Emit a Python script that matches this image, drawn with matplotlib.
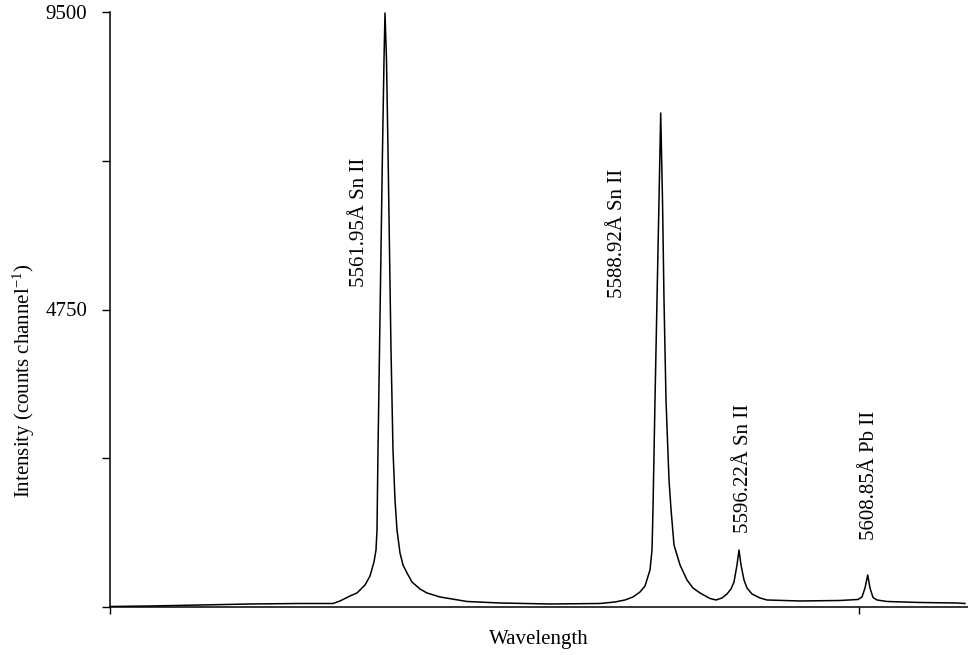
import matplotlib
matplotlib.use('Agg')
import matplotlib.pyplot as plt

plt.rcParams['font.family'] = ['Liberation Serif', 'DejaVu Serif']
plt.rcParams['mathtext.fontset'] = 'custom'
plt.rcParams['mathtext.rm'] = 'Liberation Serif'
plt.rcParams['mathtext.it'] = 'Liberation Serif:italic'

# spectrum (x = detector channel, y = counts per channel)
channel = [0, 40, 90, 140, 190, 223, 230, 240, 247, 255, 260, 264, 266, 267, 268,
           269.5, 271, 272.5, 274, 275, 276.5, 278, 279.5, 281, 283, 285, 287, 290,
           293, 297, 302, 310, 317, 330, 357, 390, 440, 490, 505, 515, 523, 530, 535,
           540, 542, 543, 545, 547, 549, 550.7, 552.5, 554, 556, 559, 561, 564, 570,
           577, 583, 590, 600, 606, 612, 617, 621, 624, 627, 629, 631, 634, 637, 642,
           650, 657, 690, 730, 748, 752, 755, 757.7, 760, 763, 767, 777, 810, 847, 855]
counts = [8, 16, 32, 48, 56, 56, 96, 176, 224, 351, 495, 719, 910, 1229, 2507,
          4103, 5700, 7296, 8733, 9484, 8733, 7296, 5700, 4103, 2507, 1708, 1229, 862,
          671, 543, 399, 287, 224, 160, 88, 64, 48, 56, 80, 112, 160, 240, 335,
          591, 910, 1565, 3305, 4902, 6498, 7887, 6498, 4902, 3305, 2028, 1565, 990, 671,
          431, 303, 224, 136, 112, 144, 208, 287, 399, 671, 910, 671, 431, 303, 208,
          144, 112, 96, 104, 120, 160, 303, 511, 303, 152, 112, 88, 72, 64, 56]

line_labels = ['5561.95Å Sn II', '5588.92Å Sn II', '5596.22Å Sn II', '5608.85Å Pb II']
label_x = [250, 508, 634, 760]
label_y = [5109, 4934, 1181, 1070]

y_ticks = [0, 2375, 4750, 7125, 9500]
y_ticklabels = ['', '', '4750', '', '9500']

fig = plt.figure(figsize=(9.68, 6.55), dpi=100)
ax = fig.add_axes([110 / 968, 48 / 655, 858 / 968, 595 / 655])

ax.plot(channel, counts, color='black', linewidth=1.1)

for txt, lx, ly in zip(line_labels, label_x, label_y):
    ax.text(lx, ly, txt, rotation=90, ha='center', va='bottom', fontsize=15)

ax.set_xlim(0, 858)
ax.set_ylim(0, 9500)
ax.set_yticks(y_ticks)
ax.set_yticklabels(y_ticklabels, fontsize=15)
ax.set_xticks([0, 749])
ax.set_xticklabels(['', ''])

ax.spines['top'].set_visible(False)
ax.spines['right'].set_visible(False)
ax.spines['left'].set_linewidth(1.1)
ax.spines['bottom'].set_linewidth(1.1)
ax.tick_params(axis='y', direction='out', length=5.5, width=1.0, pad=11)
ax.tick_params(axis='x', direction='out', length=5, width=1.0)

# label sits lower than the axis centre in the original
ax.set_ylabel(r'Intensity (counts channel$^{-1}$)', fontsize=15, labelpad=6, y=0.38)
ax.set_xlabel('Wavelength', fontsize=15, labelpad=8)

plt.savefig('out.png', dpi=100)
plt.close()
